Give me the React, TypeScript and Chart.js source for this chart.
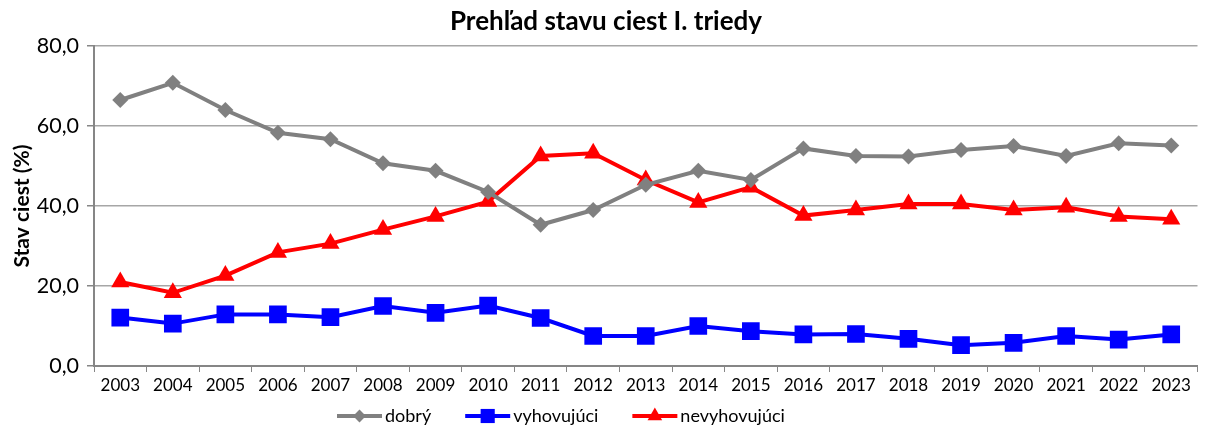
import React, { useEffect, useRef } from "react";
import { Chart, registerables } from "chart.js";

Chart.register(...registerables);

const years = ["2003","2004","2005","2006","2007","2008","2009","2010","2011","2012","2013","2014","2015","2016","2017","2018","2019","2020","2021","2022","2023"];
const dobry = [66.5,70.8,64.0,58.3,56.7,50.7,48.8,43.5,35.3,39.0,45.3,48.8,46.5,54.4,52.5,52.4,54.0,55.0,52.5,55.7,55.1];
const vyhovujuci = [12.1,10.6,12.9,12.9,12.2,15.0,13.3,15.1,12.0,7.5,7.5,10.0,8.7,7.9,8.0,6.8,5.2,5.8,7.5,6.6,7.9];
const nevyhovujuci = [21.0,18.3,22.6,28.4,30.6,34.1,37.4,41.1,52.5,53.2,46.5,40.9,44.7,37.6,39.0,40.5,40.5,39.0,39.7,37.4,36.7];
const seriesNames = ["dobrý", "vyhovujúci", "nevyhovujúci"];
const titleText = "Prehľad stavu ciest I. triedy";
const yTitle = "Stav ciest (%)";

const FONT = "Lato, 'Open Sans', sans-serif";

const colors = ["#808080", "#0000ff", "#ff0000"];
const styles: any[] = ["rectRot", "rect", "triangle"];
const radii = [8, 12.5, 10.5];

function drawMarker(ctx: CanvasRenderingContext2D, style: string, r: number, x: number, y: number, color: string) {
  ctx.fillStyle = color;
  ctx.beginPath();
  if (style === "rectRot") {
    ctx.moveTo(x, y - r);
    ctx.lineTo(x + r, y);
    ctx.lineTo(x, y + r);
    ctx.lineTo(x - r, y);
  } else if (style === "rect") {
    const s = r * Math.SQRT1_2;
    ctx.rect(x - s, y - s, 2 * s, 2 * s);
  } else {
    const a = (2 * Math.PI) / 3;
    for (let k = 0; k < 3; k++) {
      const ang = k * a;
      const px = x + Math.sin(ang) * r;
      const py = y - Math.cos(ang) * r;
      if (k === 0) ctx.moveTo(px, py);
      else ctx.lineTo(px, py);
    }
  }
  ctx.closePath();
  ctx.fill();
}

const overlay = {
  id: "overlay",
  afterDraw(chart: any) {
    const ctx = chart.ctx;
    ctx.save();
    ctx.fillStyle = "#000";
    ctx.font = `bold 26px ${FONT}`;
    ctx.textAlign = "center";
    ctx.textBaseline = "middle";
    ctx.fillText(titleText, 606, 22);
    ctx.font = `18px ${FONT}`;
    ctx.textAlign = "left";
    let x = 337;
    const y = 416;
    seriesNames.forEach((name, i) => {
      ctx.strokeStyle = colors[i];
      ctx.lineWidth = 4;
      ctx.beginPath();
      ctx.moveTo(x, y);
      ctx.lineTo(x + 45, y);
      ctx.stroke();
      drawMarker(ctx, styles[i], radii[i] * 0.8, x + 22.5, y, colors[i]);
      ctx.fillStyle = "#000";
      ctx.fillText(name, x + 48, y);
      x += 48 + ctx.measureText(name).width + 34;
    });
    ctx.restore();
  },
};

export default function App() {
  const ref = useRef<HTMLCanvasElement | null>(null);
  useEffect(() => {
    document.body.style.margin = "0";
    if (!ref.current) return;
    const data = [dobry, vyhovujuci, nevyhovujuci];
    const chart = new Chart(ref.current, {
      type: "line",
      data: {
        labels: years,
        datasets: data.map((d, i) => ({
          label: seriesNames[i],
          data: d,
          borderColor: colors[i],
          backgroundColor: colors[i],
          borderWidth: 4,
          pointStyle: styles[i],
          pointRadius: radii[i],
          pointHoverRadius: radii[i],
          pointBorderWidth: 0,
          tension: 0,
          fill: false,
        })),
      },
      options: {
        animation: false,
        responsive: false,
        maintainAspectRatio: false,
        layout: { padding: { top: 46, right: 2, bottom: 29, left: 0 } },
        plugins: {
          legend: { display: false },
          title: { display: false },
          tooltip: { enabled: false },
        },
        scales: {
          x: {
            type: "category",
            offset: true,
            grid: {
              offset: true,
              drawOnChartArea: false,
              drawTicks: true,
              tickLength: 6,
              tickColor: "#868686",
              tickWidth: 1,
            },
            border: { color: "#868686", width: 2 },
            ticks: {
              color: "#000",
              font: { family: FONT, size: 17 },
              padding: 3,
              maxRotation: 0,
              autoSkip: false,
            },
            afterFit(scale: any) {
              scale.height = 31;
            },
          },
          y: {
            min: 0,
            max: 80,
            ticks: {
              stepSize: 20,
              color: "#000",
              font: { family: FONT, size: 21.5 },
              padding: 8,
              callback: (v: any) => Number(v).toFixed(1).replace(".", ","),
            },
            grid: {
              color: "#a6a6a6",
              lineWidth: 1.5,
              tickLength: 7,
              tickColor: "#868686",
            },
            border: { color: "#868686", width: 2 },
            title: {
              display: true,
              text: yTitle,
              color: "#000",
              font: { family: FONT, size: 21, weight: "bold" },
              padding: { top: 10, bottom: 0 },
            },
            afterFit(scale: any) {
              scale.width = 94;
            },
          },
        },
      },
      plugins: [overlay],
    });
    return () => chart.destroy();
  }, []);
  return (
    <div style={{ width: 1210, height: 426 }}>
      <canvas ref={ref} width={1210} height={426} style={{ display: "block" }} />
    </div>
  );
}
